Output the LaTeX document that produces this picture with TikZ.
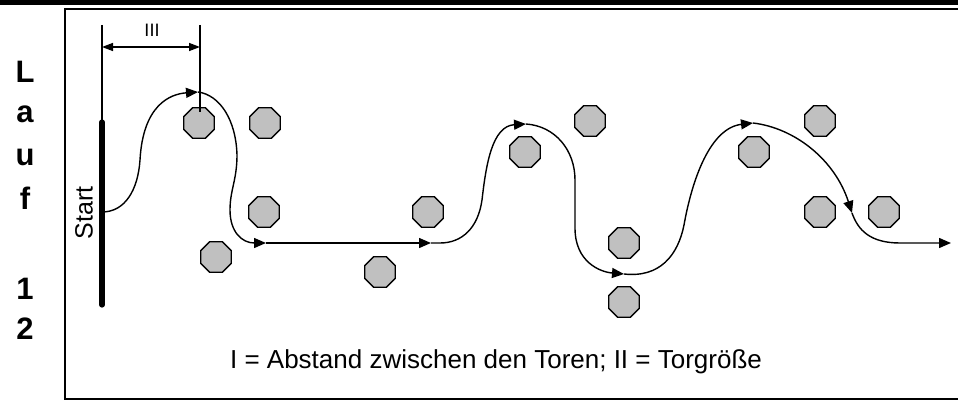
\documentclass[tikz,border=0pt]{standalone}
\usepackage{fontspec}
\setmainfont{Liberation Sans}
\usepackage{xcolor}
\usetikzlibrary{arrows.meta,shapes.geometric}

\definecolor{gatefill}{RGB}{192,192,192}

\begin{document}
\begin{tikzpicture}[x=0.5pt,y=-0.5pt,
        gate/.style={regular polygon,regular polygon sides=8,minimum size=16.5pt,
            inner sep=0pt,draw,line width=0.7pt,fill=gatefill},
        run/.style={line width=0.7pt,-{Triangle[length=6pt,width=5pt]}},
        dim/.style={line width=0.7pt},
        letter/.style={font=\fontsize{15.5}{17}\selectfont\bfseries}]
        \useasboundingbox (0,0) rectangle (958,401);
        % frame
        \fill (0,0) rectangle (958,5);
        \draw[line width=1pt] (958,9) -- (65,9) -- (65,399) -- (958,399);
        \foreach \ch/\y [count=\i] in {L/72,a/114,u/157,f/198,1/289,2/329}
            \node[letter] (lauf\i) at (25,\y) {\ch};

        % gates
        \foreach \gx/\gy [count=\i] in {199/123,265/123,264/212,216/257,380/272,
                428/212,525/152,590/121,624/243,624/302,754/152,820/121,820/212,884/212}
            \node[gate] (g\i) at (\gx,\gy) {};

        % start line
        \coordinate (bartop) at (102,122);
        \coordinate (barbot) at (102,305);
        \draw[line width=2.6pt,line cap=round] (bartop) -- (barbot);
        \node[rotate=90,font=\fontsize{12.5}{14}\selectfont] (start) at (84,213) {Start};

        % distance III
        \coordinate (d1) at (102,25);
        \coordinate (d2) at (200,25);
        \coordinate (d3) at (200,112);
        \coordinate (m1) at (102,47);
        \coordinate (m2) at (200,47);
        \draw[dim] (d1) -- (bartop);
        \draw[dim] (d2) -- (d3);
        \draw[dim,{Triangle[length=5.5pt,width=4pt]}-{Triangle[length=5.5pt,width=4pt]}] (m1) -- (m2);
        \node[font=\fontsize{9}{10}\selectfont] (dimlabel) at (152,30) {III};

        % the run
        \coordinate (p0) at (102,212);
        \coordinate (p1) at (198,92);
        \coordinate (p2) at (266,243);
        \coordinate (p3) at (431,243);
        \coordinate (p4) at (526,124);
        \coordinate (p5) at (624,274);
        \coordinate (p6) at (753,123);
        \coordinate (p7) at (852,213);
        \coordinate (p8) at (951,243);
        \draw[run] (p0) .. controls (125,212) and (138,190) .. (140,160)
            .. controls (143,105) and (170,94) .. (p1);
        \draw[run] (p1) .. controls (220,95) and (236,120) .. (237,155)
            .. controls (237,180) and (230,190) .. (230,210)
            .. controls (230,232) and (242,243) .. (p2);
        \draw[run] (p2) -- (p3);
        \draw[run] (p3) -- (440,243) .. controls (462,243) and (478,228) .. (482,200)
            .. controls (486,165) and (492,126) .. (p4);
        \draw[run] (p4) .. controls (555,126) and (575,150) .. (575,180) -- (575,228)
            .. controls (575,262) and (600,272) .. (p5);
        \draw[run] (p5) .. controls (660,278) and (678,255) .. (684,225)
            .. controls (692,180) and (710,128) .. (p6);
        \draw[run] (p6) .. controls (795,128) and (835,160) .. (p7);
        \draw[run] (p7) .. controls (858,230) and (870,243) .. (900,243) -- (p8);

        \node[font=\fontsize{13}{15}\selectfont] (legend) at (496,362)
            {I = Abstand zwischen den Toren; II = Torgröße};
    \end{tikzpicture}
\end{document}
